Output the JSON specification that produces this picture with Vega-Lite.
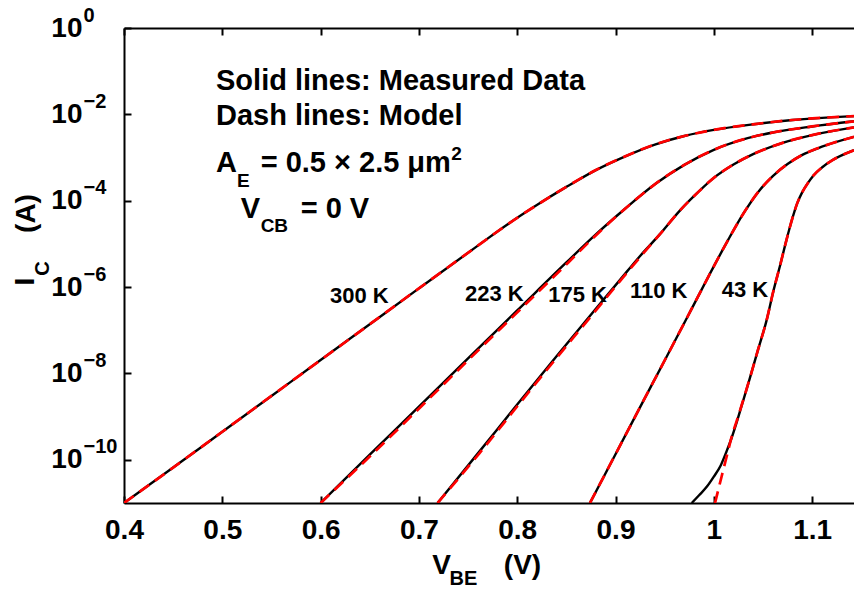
{
  "$schema": "https://vega.github.io/schema/vega-lite/v6.json",
  "width": 730,
  "height": 475,
  "autosize": "none",
  "padding": {"left": 124, "top": 28, "right": 0, "bottom": 87},
  "background": "white",
  "config": {
    "view": {"stroke": null},
    "font": "Liberation Sans",
    "axis": {"grid": false, "labelColor": "black", "titleColor": "black", "domainColor": "black", "tickColor": "black"}
  },
  "datasets": {
    "measured": [
      {"T": "300 K", "v": 0.400, "i": 1.00e-11},
      {"T": "300 K", "v": 0.450, "i": 6.61e-11},
      {"T": "300 K", "v": 0.500, "i": 4.47e-10},
      {"T": "300 K", "v": 0.550, "i": 3.02e-9},
      {"T": "300 K", "v": 0.600, "i": 2.04e-8},
      {"T": "300 K", "v": 0.650, "i": 1.38e-7},
      {"T": "300 K", "v": 0.700, "i": 9.33e-7},
      {"T": "300 K", "v": 0.760, "i": 9.12e-6},
      {"T": "300 K", "v": 0.790, "i": 2.82e-5},
      {"T": "300 K", "v": 0.820, "i": 7.94e-5},
      {"T": "300 K", "v": 0.850, "i": 2.09e-4},
      {"T": "300 K", "v": 0.880, "i": 5.13e-4},
      {"T": "300 K", "v": 0.910, "i": 1.07e-3},
      {"T": "300 K", "v": 0.940, "i": 2.00e-3},
      {"T": "300 K", "v": 0.970, "i": 3.16e-3},
      {"T": "300 K", "v": 1.000, "i": 4.37e-3},
      {"T": "300 K", "v": 1.040, "i": 5.89e-3},
      {"T": "300 K", "v": 1.080, "i": 7.41e-3},
      {"T": "300 K", "v": 1.1426, "i": 9.12e-3},

      {"T": "223 K", "v": 0.600, "i": 1.00e-11},
      {"T": "223 K", "v": 0.650, "i": 1.32e-10},
      {"T": "223 K", "v": 0.700, "i": 1.70e-9},
      {"T": "223 K", "v": 0.750, "i": 2.24e-8},
      {"T": "223 K", "v": 0.800, "i": 2.88e-7},
      {"T": "223 K", "v": 0.850, "i": 3.72e-6},
      {"T": "223 K", "v": 0.880, "i": 1.66e-5},
      {"T": "223 K", "v": 0.910, "i": 6.61e-5},
      {"T": "223 K", "v": 0.940, "i": 2.40e-4},
      {"T": "223 K", "v": 0.970, "i": 6.76e-4},
      {"T": "223 K", "v": 1.000, "i": 1.51e-3},
      {"T": "223 K", "v": 1.030, "i": 2.63e-3},
      {"T": "223 K", "v": 1.060, "i": 3.80e-3},
      {"T": "223 K", "v": 1.100, "i": 5.25e-3},
      {"T": "223 K", "v": 1.1426, "i": 6.92e-3},

      {"T": "175 K", "v": 0.719, "i": 1.00e-11},
      {"T": "175 K", "v": 0.760, "i": 1.41e-10},
      {"T": "175 K", "v": 0.800, "i": 1.91e-9},
      {"T": "175 K", "v": 0.840, "i": 2.51e-8},
      {"T": "175 K", "v": 0.880, "i": 3.16e-7},
      {"T": "175 K", "v": 0.905, "i": 1.51e-6},
      {"T": "175 K", "v": 0.925, "i": 5.25e-6},
      {"T": "175 K", "v": 0.945, "i": 1.66e-5},
      {"T": "175 K", "v": 0.965, "i": 5.75e-5},
      {"T": "175 K", "v": 0.980, "i": 1.29e-4},
      {"T": "175 K", "v": 1.000, "i": 3.39e-4},
      {"T": "175 K", "v": 1.020, "i": 6.92e-4},
      {"T": "175 K", "v": 1.040, "i": 1.20e-3},
      {"T": "175 K", "v": 1.070, "i": 2.19e-3},
      {"T": "175 K", "v": 1.100, "i": 3.31e-3},
      {"T": "175 K", "v": 1.1426, "i": 5.01e-3},

      {"T": "110 K", "v": 0.874, "i": 1.00e-11},
      {"T": "110 K", "v": 0.900, "i": 1.35e-10},
      {"T": "110 K", "v": 0.925, "i": 1.66e-9},
      {"T": "110 K", "v": 0.950, "i": 2.00e-8},
      {"T": "110 K", "v": 0.975, "i": 2.45e-7},
      {"T": "110 K", "v": 1.000, "i": 3.02e-6},
      {"T": "110 K", "v": 1.015, "i": 1.29e-5},
      {"T": "110 K", "v": 1.030, "i": 5.01e-5},
      {"T": "110 K", "v": 1.045, "i": 1.58e-4},
      {"T": "110 K", "v": 1.060, "i": 3.72e-4},
      {"T": "110 K", "v": 1.075, "i": 7.08e-4},
      {"T": "110 K", "v": 1.090, "i": 1.15e-3},
      {"T": "110 K", "v": 1.110, "i": 1.78e-3},
      {"T": "110 K", "v": 1.1426, "i": 3.02e-3},

      {"T": "43 K", "v": 0.9775, "i": 1.00e-11},
      {"T": "43 K", "v": 0.985, "i": 1.51e-11},
      {"T": "43 K", "v": 0.993, "i": 2.40e-11},
      {"T": "43 K", "v": 1.000, "i": 4.07e-11},
      {"T": "43 K", "v": 1.007, "i": 7.41e-11},
      {"T": "43 K", "v": 1.013, "i": 1.58e-10},
      {"T": "43 K", "v": 1.018, "i": 3.16e-10},
      {"T": "43 K", "v": 1.023, "i": 7.08e-10},
      {"T": "43 K", "v": 1.028, "i": 1.70e-9},
      {"T": "43 K", "v": 1.036, "i": 6.92e-9},
      {"T": "43 K", "v": 1.045, "i": 3.55e-8},
      {"T": "43 K", "v": 1.0538, "i": 1.74e-7},
      {"T": "43 K", "v": 1.0605, "i": 7.94e-7},
      {"T": "43 K", "v": 1.0674, "i": 3.16e-6},
      {"T": "43 K", "v": 1.074, "i": 1.26e-5},
      {"T": "43 K", "v": 1.080, "i": 3.98e-5},
      {"T": "43 K", "v": 1.085, "i": 8.91e-5},
      {"T": "43 K", "v": 1.090, "i": 1.58e-4},
      {"T": "43 K", "v": 1.096, "i": 2.63e-4},
      {"T": "43 K", "v": 1.1012, "i": 3.80e-4},
      {"T": "43 K", "v": 1.110, "i": 5.89e-4},
      {"T": "43 K", "v": 1.120, "i": 8.51e-4},
      {"T": "43 K", "v": 1.1426, "i": 1.48e-3}
    ],
    "model": [
      {"T": "300 K", "v": 0.400, "i": 1.00e-11},
      {"T": "300 K", "v": 0.450, "i": 6.61e-11},
      {"T": "300 K", "v": 0.500, "i": 4.47e-10},
      {"T": "300 K", "v": 0.550, "i": 3.02e-9},
      {"T": "300 K", "v": 0.600, "i": 2.04e-8},
      {"T": "300 K", "v": 0.650, "i": 1.38e-7},
      {"T": "300 K", "v": 0.700, "i": 9.33e-7},
      {"T": "300 K", "v": 0.760, "i": 9.12e-6},
      {"T": "300 K", "v": 0.790, "i": 2.82e-5},
      {"T": "300 K", "v": 0.820, "i": 7.94e-5},
      {"T": "300 K", "v": 0.850, "i": 2.09e-4},
      {"T": "300 K", "v": 0.880, "i": 5.13e-4},
      {"T": "300 K", "v": 0.910, "i": 1.07e-3},
      {"T": "300 K", "v": 0.940, "i": 2.00e-3},
      {"T": "300 K", "v": 0.970, "i": 3.16e-3},
      {"T": "300 K", "v": 1.000, "i": 4.37e-3},
      {"T": "300 K", "v": 1.040, "i": 5.89e-3},
      {"T": "300 K", "v": 1.080, "i": 7.41e-3},
      {"T": "300 K", "v": 1.1426, "i": 9.12e-3},

      {"T": "223 K", "v": 0.600, "i": 1.00e-11},
      {"T": "223 K", "v": 0.652, "i": 1.32e-10},
      {"T": "223 K", "v": 0.702, "i": 1.70e-9},
      {"T": "223 K", "v": 0.752, "i": 2.24e-8},
      {"T": "223 K", "v": 0.802, "i": 2.88e-7},
      {"T": "223 K", "v": 0.852, "i": 3.72e-6},
      {"T": "223 K", "v": 0.881, "i": 1.66e-5},
      {"T": "223 K", "v": 0.910, "i": 6.61e-5},
      {"T": "223 K", "v": 0.940, "i": 2.40e-4},
      {"T": "223 K", "v": 0.970, "i": 6.76e-4},
      {"T": "223 K", "v": 1.000, "i": 1.51e-3},
      {"T": "223 K", "v": 1.030, "i": 2.63e-3},
      {"T": "223 K", "v": 1.060, "i": 3.80e-3},
      {"T": "223 K", "v": 1.100, "i": 5.25e-3},
      {"T": "223 K", "v": 1.1426, "i": 6.92e-3},

      {"T": "175 K", "v": 0.719, "i": 1.00e-11},
      {"T": "175 K", "v": 0.7615, "i": 1.41e-10},
      {"T": "175 K", "v": 0.8015, "i": 1.91e-9},
      {"T": "175 K", "v": 0.8415, "i": 2.51e-8},
      {"T": "175 K", "v": 0.8815, "i": 3.16e-7},
      {"T": "175 K", "v": 0.906, "i": 1.51e-6},
      {"T": "175 K", "v": 0.926, "i": 5.25e-6},
      {"T": "175 K", "v": 0.945, "i": 1.66e-5},
      {"T": "175 K", "v": 0.965, "i": 5.75e-5},
      {"T": "175 K", "v": 0.980, "i": 1.29e-4},
      {"T": "175 K", "v": 1.000, "i": 3.39e-4},
      {"T": "175 K", "v": 1.020, "i": 6.92e-4},
      {"T": "175 K", "v": 1.040, "i": 1.20e-3},
      {"T": "175 K", "v": 1.070, "i": 2.19e-3},
      {"T": "175 K", "v": 1.100, "i": 3.31e-3},
      {"T": "175 K", "v": 1.1426, "i": 5.01e-3},

      {"T": "110 K", "v": 0.874, "i": 1.00e-11},
      {"T": "110 K", "v": 0.900, "i": 1.35e-10},
      {"T": "110 K", "v": 0.925, "i": 1.66e-9},
      {"T": "110 K", "v": 0.950, "i": 2.00e-8},
      {"T": "110 K", "v": 0.975, "i": 2.45e-7},
      {"T": "110 K", "v": 1.000, "i": 3.02e-6},
      {"T": "110 K", "v": 1.015, "i": 1.29e-5},
      {"T": "110 K", "v": 1.030, "i": 5.01e-5},
      {"T": "110 K", "v": 1.045, "i": 1.58e-4},
      {"T": "110 K", "v": 1.060, "i": 3.72e-4},
      {"T": "110 K", "v": 1.075, "i": 7.08e-4},
      {"T": "110 K", "v": 1.090, "i": 1.15e-3},
      {"T": "110 K", "v": 1.110, "i": 1.78e-3},
      {"T": "110 K", "v": 1.1426, "i": 3.02e-3},

      {"T": "43 K", "v": 1.0012, "i": 1.00e-11},
      {"T": "43 K", "v": 1.008, "i": 4.17e-11},
      {"T": "43 K", "v": 1.014, "i": 1.45e-10},
      {"T": "43 K", "v": 1.019, "i": 3.98e-10},
      {"T": "43 K", "v": 1.023, "i": 7.59e-10},
      {"T": "43 K", "v": 1.028, "i": 1.74e-9},
      {"T": "43 K", "v": 1.036, "i": 6.92e-9},
      {"T": "43 K", "v": 1.045, "i": 3.55e-8},
      {"T": "43 K", "v": 1.0538, "i": 1.74e-7},
      {"T": "43 K", "v": 1.0605, "i": 7.94e-7},
      {"T": "43 K", "v": 1.0674, "i": 3.16e-6},
      {"T": "43 K", "v": 1.074, "i": 1.26e-5},
      {"T": "43 K", "v": 1.080, "i": 3.98e-5},
      {"T": "43 K", "v": 1.085, "i": 8.91e-5},
      {"T": "43 K", "v": 1.090, "i": 1.58e-4},
      {"T": "43 K", "v": 1.096, "i": 2.63e-4},
      {"T": "43 K", "v": 1.1012, "i": 3.80e-4},
      {"T": "43 K", "v": 1.110, "i": 5.89e-4},
      {"T": "43 K", "v": 1.120, "i": 8.51e-4},
      {"T": "43 K", "v": 1.1426, "i": 1.48e-3}
    ],
    "tempLabels": [
      {"t": "300 K", "v": 0.6096, "i": 4.21e-7},
      {"t": "223 K", "v": 0.7469, "i": 4.83e-7},
      {"t": "175 K", "v": 0.8316, "i": 4.58e-7},
      {"t": "110 K", "v": 0.9147, "i": 5.50e-7},
      {"t": "43 K", "v": 1.0080, "i": 5.80e-7}
    ],
    "notes": [
      {"t": "Solid lines: Measured Data", "v": 0.4936, "i": 3.66e-2},
      {"t": "Dash lines: Model", "v": 0.4936, "i": 5.67e-3},
      {"t": "A", "v": 0.4936, "i": 4.62e-4},
      {"t": "= 0.5 × 2.5 μm", "v": 0.5390, "i": 4.62e-4},
      {"t": "V", "v": 0.5187, "i": 3.98e-5},
      {"t": "= 0 V", "v": 0.5797, "i": 3.98e-5}
    ],
    "notesSmall": [
      {"t": "E", "v": 0.5149, "i": 2.08e-4},
      {"t": "CB", "v": 0.5390, "i": 1.89e-5},
      {"t": "2", "v": 0.7330, "i": 8.77e-4}
    ]
  },
  "layer": [
    {
      "data": {"name": "measured"},
      "mark": {"type": "line", "color": "black", "strokeWidth": 2.4, "interpolate": "monotone", "clip": true},
      "encoding": {
        "x": {
          "field": "v", "type": "quantitative",
          "scale": {"domain": [0.4, 1.1426], "nice": false, "zero": false},
          "axis": {
            "orient": "bottom", "values": [0.4, 0.5, 0.6, 0.7, 0.8, 0.9, 1.0, 1.1], "format": ".2~f",
            "domainWidth": 2, "tickWidth": 2, "tickSize": -7,
            "labelFontSize": 28, "labelFontWeight": "bold", "labelPadding": 20, "labelFlush": false, "labelOverlap": false,
            "title": "V", "titleFontSize": 28, "titleFontWeight": "bold",
            "titleX": 317, "titleY": 70, "titleAlign": "center", "titleBaseline": "alphabetic"
          }
        },
        "y": {
          "field": "i", "type": "quantitative",
          "scale": {"type": "log", "domain": [1e-11, 1], "nice": false},
          "axis": {
            "orient": "left", "values": [1, 0.01, 0.0001, 1e-6, 1e-8, 1e-10], "labelExpr": "'10'",
            "domainWidth": 2, "tickWidth": 2, "tickSize": -7,
            "labelFontSize": 28, "labelFontWeight": "bold", "labelPadding": 49, "labelBaseline": "middle", "labelOverlap": false,
            "title": "I", "titleFontSize": 28, "titleFontWeight": "bold", "titleAngle": -90,
            "titleX": -91, "titleY": 253, "titleAlign": "center", "titleBaseline": "alphabetic"
          }
        },
        "detail": {"field": "T", "type": "nominal"}
      }
    },
    {
      "data": {"name": "model"},
      "mark": {"type": "line", "color": "#ff0000", "strokeWidth": 2.7, "strokeDash": [12, 7], "interpolate": "monotone", "clip": true},
      "encoding": {
        "x": {
          "field": "v", "type": "quantitative",
          "scale": {"domain": [0.4, 1.1426], "nice": false, "zero": false},
          "axis": {
            "orient": "bottom", "labels": false, "ticks": false, "domain": false,
            "title": "BE", "titleFontSize": 20, "titleFontWeight": "bold",
            "titleX": 339, "titleY": 81, "titleAlign": "center", "titleBaseline": "alphabetic"
          }
        },
        "y": {
          "field": "i", "type": "quantitative",
          "scale": {"type": "log", "domain": [1e-11, 1], "nice": false},
          "axis": {
            "orient": "left", "values": [1, 0.01, 0.0001, 1e-6, 1e-8, 1e-10],
            "labelExpr": "datum.value >= 1 ? '0' : '−' + round(-log(datum.value) / LN10)",
            "ticks": false, "tickSize": 0, "domain": false,
            "labelFontSize": 20, "labelFontWeight": "bold", "labelAlign": "left", "labelPadding": 41,
            "labelBaseline": "middle", "labelOffset": -13, "labelOverlap": false,
            "title": "C", "titleFontSize": 20, "titleFontWeight": "bold", "titleAngle": -90,
            "titleX": -76, "titleY": 240, "titleAlign": "center", "titleBaseline": "alphabetic"
          }
        },
        "detail": {"field": "T", "type": "nominal"}
      }
    },
    {
      "data": {"name": "tempLabels"},
      "mark": {"type": "text", "fontSize": 22, "fontWeight": "bold", "align": "left", "baseline": "alphabetic", "color": "black"},
      "encoding": {
        "x": {
          "field": "v", "type": "quantitative",
          "scale": {"domain": [0.4, 1.1426], "nice": false, "zero": false},
          "axis": {
            "orient": "top", "values": [0.4, 0.5, 0.6, 0.7, 0.8, 0.9, 1.0, 1.1],
            "labels": false, "domainWidth": 2, "tickWidth": 2, "tickSize": -7, "title": null
          }
        },
        "y": {
          "field": "i", "type": "quantitative",
          "scale": {"type": "log", "domain": [1e-11, 1], "nice": false},
          "axis": {
            "orient": "left", "labels": false, "ticks": false, "domain": false,
            "title": "(A)", "titleFontSize": 28, "titleFontWeight": "bold", "titleAngle": -90,
            "titleX": -90, "titleY": 185, "titleAlign": "center", "titleBaseline": "alphabetic"
          }
        },
        "text": {"field": "t", "type": "nominal"}
      }
    },
    {
      "data": {"name": "notes"},
      "mark": {"type": "text", "fontSize": 29, "fontWeight": "bold", "align": "left", "baseline": "alphabetic", "color": "black"},
      "encoding": {
        "x": {
          "field": "v", "type": "quantitative",
          "scale": {"domain": [0.4, 1.1426], "nice": false, "zero": false},
          "axis": {
            "orient": "bottom", "labels": false, "ticks": false, "domain": false,
            "title": "(V)", "titleFontSize": 28, "titleFontWeight": "bold",
            "titleX": 398, "titleY": 70, "titleAlign": "center", "titleBaseline": "alphabetic"
          }
        },
        "y": {
          "field": "i", "type": "quantitative",
          "scale": {"type": "log", "domain": [1e-11, 1], "nice": false},
          "axis": null
        },
        "text": {"field": "t", "type": "nominal"}
      }
    },
    {
      "data": {"name": "notesSmall"},
      "mark": {"type": "text", "fontSize": 19, "fontWeight": "bold", "align": "left", "baseline": "alphabetic", "color": "black"},
      "encoding": {
        "x": {
          "field": "v", "type": "quantitative",
          "scale": {"domain": [0.4, 1.1426], "nice": false, "zero": false},
          "axis": null
        },
        "y": {
          "field": "i", "type": "quantitative",
          "scale": {"type": "log", "domain": [1e-11, 1], "nice": false},
          "axis": null
        },
        "text": {"field": "t", "type": "nominal"}
      }
    }
  ],
  "resolve": {"axis": {"x": "independent", "y": "independent"}}
}
